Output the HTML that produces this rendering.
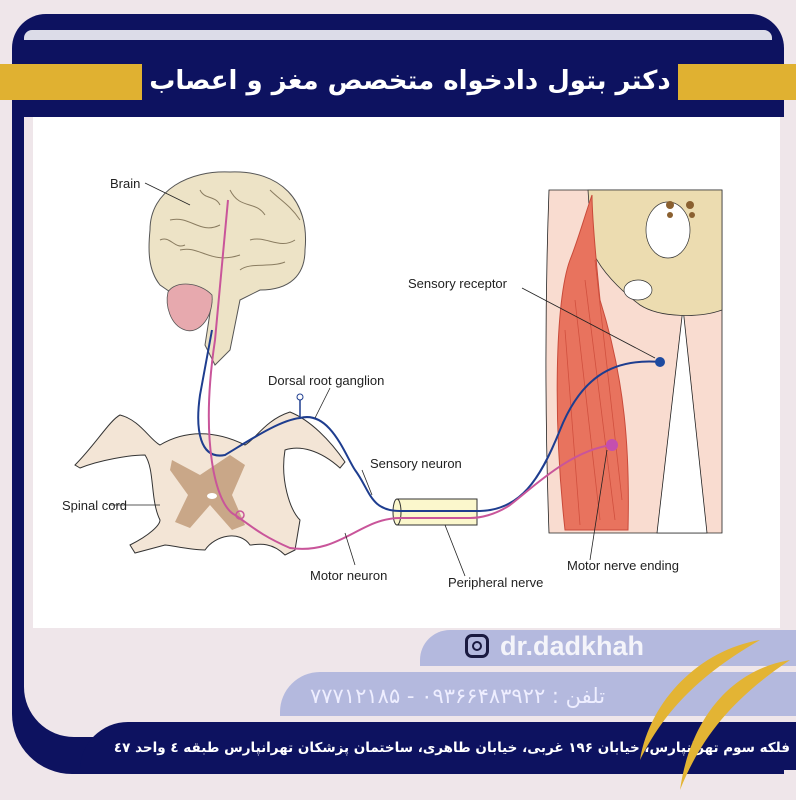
<!DOCTYPE html>
<html><head><meta charset="utf-8">
<style>
html,body{margin:0;padding:0}
body{width:796px;height:800px;position:relative;overflow:hidden;background:#efe6ea;font-family:"Liberation Sans","Noto Sans CJK SC",sans-serif}
.abs{position:absolute}
</style></head><body>
<!-- frame -->
<div class="abs" style="left:12px;top:14px;width:772px;height:760px;border-radius:34px 34px 0 60px;background:#0d1260"></div>
<div class="abs" style="left:24px;top:30px;width:748px;height:10px;background:#dcdce8;border-radius:8px 8px 0 0"></div>
<div class="abs" style="left:24px;top:117px;width:760px;height:620px;background:#efe6ea;border-radius:0 0 0 50px"></div>
<!-- gold bars -->
<div class="abs" style="left:0;top:64px;width:142px;height:36px;background:#e0b131"></div>
<div class="abs" style="left:678px;top:64px;width:118px;height:36px;background:#e0b131"></div>
<div class="abs" style="left:142px;top:56px;width:536px;height:54px;color:#fff;font-weight:bold;font-size:26px;line-height:50px;text-align:center;direction:rtl;font-family:'DejaVu Sans',sans-serif;white-space:nowrap">دکتر بتول دادخواه  متخصص مغز و اعصاب</div>
<!-- white diagram area -->
<div class="abs" style="left:33px;top:117px;width:747px;height:511px;background:#fff"></div>
<!-- lavender bars -->
<div class="abs" style="left:420px;top:630px;width:376px;height:36px;background:#b4b9de;border-radius:30px 0 0 0"></div>
<div class="abs" style="left:465px;top:630px;width:24px;height:24px;border:3px solid #1a1a40;border-radius:7px;box-sizing:border-box;margin-top:4px"></div>
<div class="abs" style="left:472px;top:641px;width:10px;height:10px;border:2px solid #1a1a40;border-radius:50%;box-sizing:border-box"></div>
<div class="abs" style="left:500px;top:628px;color:#f4f4fa;font-size:27px;font-weight:bold;line-height:36px">dr.dadkhah</div>
<div class="abs" style="left:280px;top:672px;width:516px;height:44px;background:#b4b9de;border-radius:40px 0 0 0"></div>
<div class="abs" style="left:310px;top:676px;width:370px;color:#eef;font-size:21px;line-height:40px;direction:rtl;text-align:left;font-family:'DejaVu Sans',sans-serif;white-space:nowrap">تلفن : ۰۹۳۶۶۴۸۳۹۲۲ - ۷۷۷۱۲۱۸۵</div>
<div class="abs" style="left:80px;top:722px;width:716px;height:48px;background:#0d1260;border-radius:60px 0 0 0"></div>
<div class="abs" style="left:0;top:728px;width:790px;color:#fff;font-size:13.5px;font-weight:bold;line-height:40px;direction:rtl;text-align:right;font-family:'DejaVu Sans',sans-serif;white-space:nowrap">فلکه سوم تهرانپارس، خیابان ۱۹۶ غربی، خیابان طاهری، ساختمان پزشکان تهرانپارس طبقه ٤ واحد ٤٧</div>
<svg class="abs" style="left:0;top:0" width="796" height="800">
<path d="M760 640 C700 650 650 700 640 760 C660 720 690 680 760 640Z" fill="#e3b434"/>
<path d="M790 660 C730 670 690 720 680 790 C700 740 730 700 790 660Z" fill="#e3b434"/>
</svg>
<!-- diagram -->
<svg class="abs" style="left:0;top:0" width="796" height="800" font-family="Liberation Sans Narrow, Liberation Sans, sans-serif" font-size="13">
<!-- leg -->
<path d="M549 190 L722 190 L722 533 L549 533 C545 420 545 300 549 190Z" fill="#f9dcd0" stroke="#222" stroke-width="0.8"/>
<path d="M683 308 L657 533 L707 533Z" fill="#fff" stroke="#222" stroke-width="0.8"/>
<path d="M588 190 L722 190 L722 310 C700 318 660 318 640 305 C620 290 600 270 592 250Z" fill="#ecdcb0" stroke="#333" stroke-width="0.8"/>
<ellipse cx="668" cy="230" rx="22" ry="28" fill="#fff" stroke="#333" stroke-width="0.7"/>
<ellipse cx="638" cy="290" rx="14" ry="10" fill="#fff" stroke="#333" stroke-width="0.7"/>
<circle cx="670" cy="205" r="4" fill="#8a6030"/><circle cx="690" cy="205" r="4" fill="#8a6030"/>
<circle cx="670" cy="215" r="3" fill="#8a6030"/><circle cx="692" cy="215" r="3" fill="#8a6030"/>
<path d="M570 260 C555 300 553 420 565 530 L628 530 C630 450 625 380 600 300 C595 250 592 210 592 195 C585 215 578 240 570 260Z" fill="#e8735e" stroke="#c94a3a" stroke-width="1"/>
<path d="M575 300 L600 520 M585 280 L615 520 M595 260 L622 500 M565 330 L580 525" stroke="#d0503e" stroke-width="0.8" fill="none"/>
<!-- brain -->
<path d="M150 230 C150 190 190 170 230 172 C280 170 310 200 305 250 C305 275 290 290 260 290 L240 300 L230 350 L215 365 L205 345 L212 300 C200 305 180 300 160 285 C148 270 148 250 150 230Z" fill="#ede3c6" stroke="#555" stroke-width="1"/>
<path d="M168 292 C175 280 200 282 212 295 C214 315 200 335 185 330 C170 325 165 305 168 292Z" fill="#e7a9ae" stroke="#555" stroke-width="0.8"/>
<path d="M170 220 C190 215 200 235 220 225 M180 250 C200 245 210 265 240 255 M230 190 C240 210 255 200 265 215 M250 240 C265 235 280 250 295 240 M240 270 C250 262 270 268 285 262 M160 240 C170 235 175 250 185 245 M200 190 C205 200 215 195 220 205 M270 190 C280 200 290 205 300 220" stroke="#8a7c60" stroke-width="1" fill="none"/>
<!-- spinal cord -->
<path d="M75 465 C95 445 110 420 120 415 C140 420 150 440 160 445 C185 430 215 430 245 445 C255 440 265 420 290 412 C310 420 330 440 345 462 L340 468 C320 450 300 445 285 450 C280 480 290 510 300 520 L295 550 L285 555 C270 540 255 545 250 545 C240 530 215 535 205 550 C190 550 170 545 165 545 L135 553 L130 545 C150 535 160 525 160 520 C150 500 155 470 145 455 C130 455 100 460 80 468Z" fill="#f3e5d6" stroke="#333" stroke-width="1"/>
<path d="M172 460 L200 475 L230 455 L245 465 L232 495 L245 525 L232 530 L210 505 L190 528 L175 522 L188 495 L170 470Z" fill="#c9a788"/>
<ellipse cx="212" cy="496" rx="5" ry="3" fill="#fff"/>
<!-- nerve cylinder -->
<rect x="397" y="499" width="80" height="26" fill="#fbf7cc" stroke="#333" stroke-width="1"/>
<ellipse cx="397" cy="512" rx="4" ry="13" fill="#fbf7cc" stroke="#333" stroke-width="1"/>
<!-- nerves -->
<path d="M660 362 C610 358 580 380 560 430 C540 480 520 510 480 511 L400 511 C370 511 370 490 355 470 C345 455 330 410 300 418 C280 420 250 440 225 455 C200 460 195 430 200 395 L212 330" fill="none" stroke="#1e3d8f" stroke-width="2"/>
<path d="M300 418 L300 400" stroke="#1e3d8f" stroke-width="1.5"/><circle cx="300" cy="397" r="3" fill="#fff" stroke="#1e3d8f"/>
<circle cx="660" cy="362" r="5" fill="#1e4aa0"/>
<path d="M612 445 C570 450 530 490 510 505 C495 515 480 518 470 518 L400 518 C360 518 340 555 290 548 C260 535 250 525 235 515 C215 505 200 440 215 340 L228 200" fill="none" stroke="#c9559a" stroke-width="2"/>
<circle cx="612" cy="445" r="6" fill="#c44fae"/>
<circle cx="240" cy="515" r="4" fill="none" stroke="#c9559a" stroke-width="1.5"/>
<!-- leader lines -->
<g stroke="#222" stroke-width="0.8" fill="none">
<path d="M145 183 L190 205"/><path d="M522 288 L655 358"/><path d="M330 388 L315 418"/>
<path d="M362 470 L372 495"/><path d="M110 505 L160 505"/><path d="M355 565 L345 533"/>
<path d="M465 576 L445 525"/><path d="M590 560 L607 450"/>
</g>
<g fill="#222">
<text x="110" y="188">Brain</text>
<text x="408" y="288">Sensory receptor</text>
<text x="268" y="385">Dorsal root ganglion</text>
<text x="370" y="468">Sensory neuron</text>
<text x="62" y="510">Spinal cord</text>
<text x="310" y="580">Motor neuron</text>
<text x="448" y="587">Peripheral nerve</text>
<text x="567" y="570">Motor nerve ending</text>
</g>
</svg>
</body></html>
